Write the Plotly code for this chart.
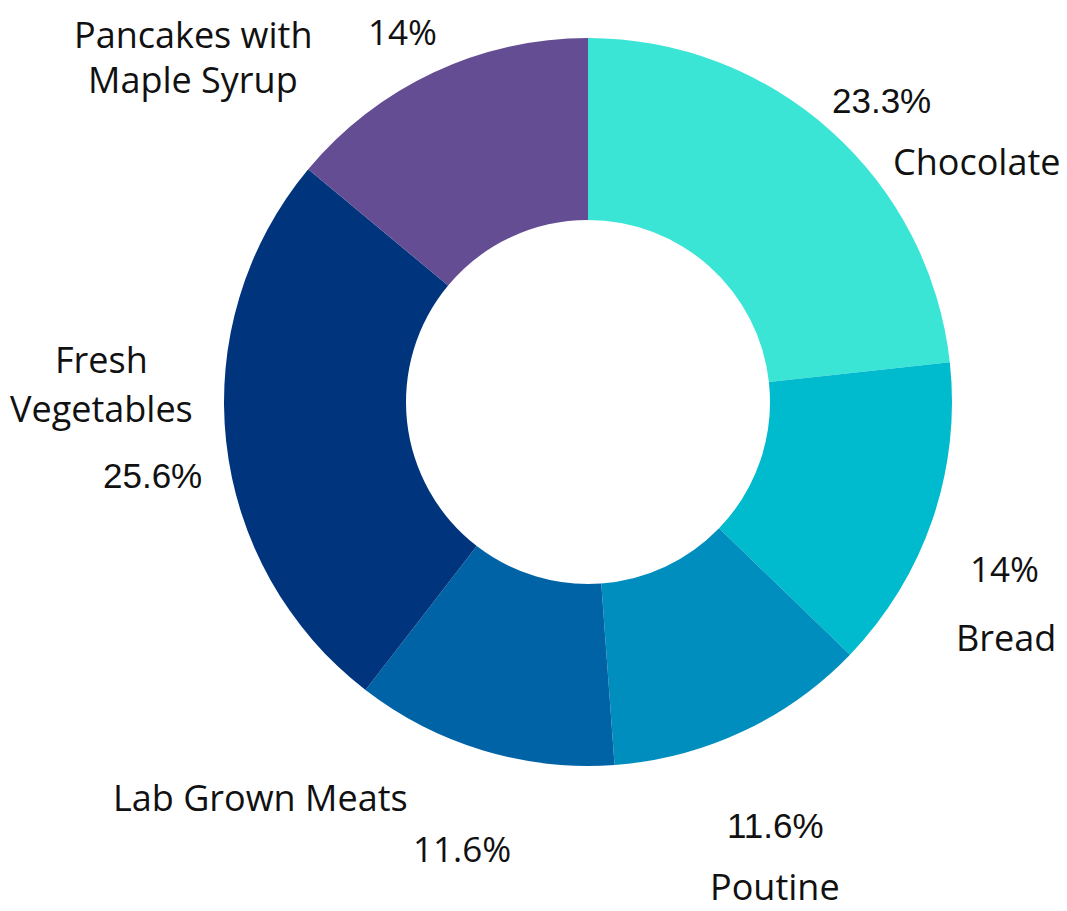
import plotly.graph_objects as go

labels = ["Chocolate", "Bread", "Poutine", "Lab Grown Meats", "Fresh Vegetables", "Pancakes with Maple Syrup"]
values = [10, 6, 5, 5, 11, 6]
colors = ["#3AE5D6", "#00BACD", "#008EBE", "#0063A5", "#00357D", "#644D93"]
label_lines = [["Chocolate"], ["Bread"], ["Poutine"], ["Lab Grown Meats"],
               ["Fresh", "Vegetables"], ["Pancakes with", "Maple Syrup"]]

WIN_W, WIN_H = 1067, 911
OFF = 8  # page body margin
W, H = WIN_W - 2 * OFF, WIN_H - OFF
# label anchor positions (pixels, window coords; centre of first line), line gaps, percent text
name_pos = [(976, 161), (1006, 637), (775, 886), (260, 797), (101, 359), (193, 34)]
line_gap = [0, 0, 0, 0, 49, 45]
pct_pos = [(881, 100), (1004, 568), (775, 825), (462, 848), (152, 475), (402, 32)]
pct_font = ["Liberation Sans", "Open Sans", "Liberation Sans", "Open Sans", "Liberation Sans", "Open Sans"]

total = sum(values)
pcts = [f"{round(v / total * 100, 1):g}%" for v in values]


def px(x):
    return (x - OFF) / W


def py(y):
    return 1 - (y - OFF) / H


fig = go.Figure(go.Pie(
    labels=labels, values=values, hole=0.5, sort=False, direction="clockwise",
    rotation=0, marker=dict(colors=colors, line=dict(width=0)),
    textinfo="none", hoverinfo="label+percent",
    domain=dict(x=[px(224), px(952)], y=[py(766), py(38)]),
))

ann = []
for i in range(len(labels)):
    nx, ny = name_pos[i]
    for j, line in enumerate(label_lines[i]):
        ann.append(dict(x=px(nx), y=py(ny + j * line_gap[i]), xref="paper", yref="paper", text=line,
                        showarrow=False, xanchor="center", yanchor="middle",
                        font=dict(family="Open Sans", size=36, color="#111111")))
    qx, qy = pct_pos[i]
    ann.append(dict(x=px(qx), y=py(qy), xref="paper", yref="paper", text=pcts[i],
                    showarrow=False, xanchor="center", yanchor="middle",
                    font=dict(family=pct_font[i], size=35, color="#111111")))

fig.update_layout(
    width=W, height=H, margin=dict(l=0, r=0, t=0, b=0),
    paper_bgcolor="white", plot_bgcolor="white", showlegend=False,
    annotations=ann,
)
fig.write_html("out.html")
